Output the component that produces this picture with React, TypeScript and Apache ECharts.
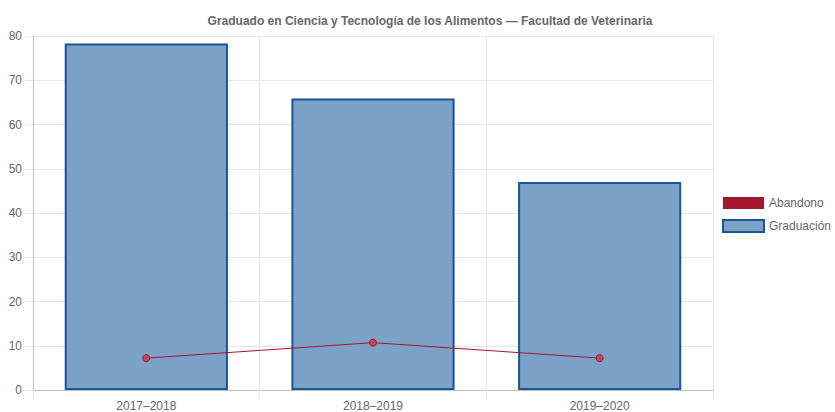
import React, { useEffect, useRef } from "react";
import * as echarts from "echarts";

const titleText = "Graduado en Ciencia y Tecnología de los Alimentos — Facultad de Veterinaria";
const categories = ["2017–2018", "2018–2019", "2019–2020"];
const graduacion = [78.3, 65.9, 47.0];
const abandono = [7.2, 10.7, 7.2];
const seriesNames = ["Abandono", "Graduación"];

export default function App() {
  const ref = useRef<HTMLDivElement>(null);
  useEffect(() => {
    if (!ref.current) return;
    const chart = echarts.init(ref.current, undefined, { renderer: "svg" });
    const font = "'Liberation Sans', Arial, Helvetica, sans-serif";
    chart.setOption({
      animation: false,
      textStyle: { fontFamily: font },
      title: {
        text: titleText,
        left: 425,
        textAlign: "center",
        top: 10,
        textStyle: { fontSize: 12, fontWeight: "bold", color: "#666", fontFamily: font },
      },
      legend: {
        orient: "vertical",
        left: 717,
        top: 192,
        itemWidth: 41,
        itemHeight: 12,
        itemGap: 10,
        textStyle: { fontSize: 12, color: "#666", fontFamily: font },
        data: [
          { name: seriesNames[0], icon: "rect", itemStyle: { color: "#a3172c", borderWidth: 0 } },
          {
            name: seriesNames[1],
            icon: "rect",
            itemStyle: { color: "#7ba3c8", borderColor: "#1b5596", borderWidth: 2 },
          },
        ],
      },
      grid: { left: 33, right: 122, top: 36, bottom: 21, containLabel: false },
      xAxis: {
        type: "category",
        data: categories,
        boundaryGap: true,
        axisLine: { show: true, lineStyle: { color: "#bfbfbf" } },
        axisTick: { show: true, length: 9, lineStyle: { color: "#e6e6e6" } },
        axisLabel: { color: "#666", fontSize: 12, margin: 10, fontFamily: font },
        splitLine: { show: true, lineStyle: { color: "#e6e6e6" } },
      },
      yAxis: {
        type: "value",
        min: 0,
        max: 80,
        interval: 10,
        axisLine: { show: true, lineStyle: { color: "#bfbfbf" } },
        axisTick: { show: true, length: 8, lineStyle: { color: "#e6e6e6" } },
        axisLabel: { color: "#666", fontSize: 12, margin: 11, fontFamily: font },
        splitLine: { show: true, lineStyle: { color: "#e6e6e6" } },
      },
      series: [
        {
          name: seriesNames[1],
          type: "bar",
          data: graduacion,
          barWidth: "72%",
          itemStyle: { color: "#7ba3c8", borderColor: "#1b5596", borderWidth: 2 },
          z: 2,
        },
        {
          name: seriesNames[0],
          type: "line",
          data: abandono,
          symbol: "circle",
          symbolSize: 7,
          lineStyle: { color: "#a3172c", width: 1 },
          itemStyle: { color: "#c0455c", borderColor: "#a3172c", borderWidth: 1 },
          z: 3,
        },
      ],
    });
    return () => chart.dispose();
  }, []);
  return (
    <div
      ref={ref}
      style={{ position: "fixed", left: 0, top: 0, width: 835, height: 412, background: "#fff" }}
    />
  );
}
